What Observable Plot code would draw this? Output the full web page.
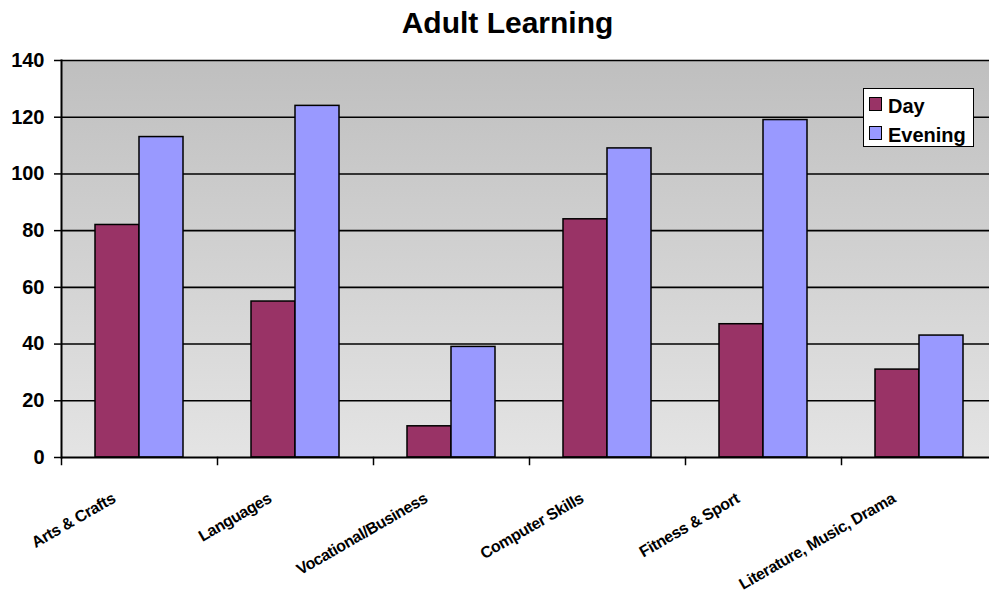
<!DOCTYPE html>
<html>
<head>
<meta charset="utf-8">
<script src="https://cdn.jsdelivr.net/npm/d3@7"></script>
<script src="https://cdn.jsdelivr.net/npm/@observablehq/plot@0.6"></script>
<style>
  html, body { margin: 0; padding: 0; background: #fff; overflow: hidden; }
  body { width: 989px; height: 598px; position: relative; font-family: "Liberation Sans", Arial, sans-serif; }
  #title { height: 46px; line-height: 46px; text-align: center; font-size: 30px; font-weight: bold; color: #000; padding-left: 26px; }
  #legend { position: absolute; left: 863px; top: 88px; width: 109px; height: 57px; background: #fff; border: 1.5px solid #000; }
  .item { position: absolute; left: 5px; height: 20px; }
  .sw { position: absolute; left: 0; top: 0; width: 11px; height: 12px; border: 1.5px solid #000; }
  .lbl { position: absolute; left: 19px; top: -2px; font-size: 20px; font-weight: bold; line-height: 22px; white-space: nowrap; }
  #chart svg { overflow: visible; }
</style>
</head>
<body>
<div id="title">Adult Learning</div>
<div id="chart"></div>
<div id="legend"></div>
<svg width="0" height="0" style="position:absolute">
  <defs>
    <linearGradient id="bg" x1="0" y1="0" x2="0" y2="1">
      <stop offset="0" stop-color="#bfbfbf"></stop>
      <stop offset="1" stop-color="#e4e4e4"></stop>
    </linearGradient>
  </defs>
</svg>
<script>
const categories = ["Arts & Crafts", "Languages", "Vocational/Business", "Computer Skills", "Fitness & Sport", "Literature, Music, Drama"];
const seriesNames = ["Day", "Evening"];
const seriesColors = ["#993366", "#9999FF"];
const dayValues = [82, 55, 11, 84, 47, 31];
const eveningValues = [113, 124, 39, 109, 119, 43];
const yTicks = [0, 20, 40, 60, 80, 100, 120, 140];

const rows = [];
categories.forEach((c, i) => {
  rows.push({category: c, series: "Day", value: dayValues[i]});
  rows.push({category: c, series: "Evening", value: eveningValues[i]});
});

const chart = Plot.plot({
  width: 989,
  height: 552,
  marginTop: 14,
  marginBottom: 141,
  marginLeft: 61,
  marginRight: -8,
  style: {fontFamily: "Liberation Sans, Arial, sans-serif", color: "#000", background: "transparent"},
  fx: {domain: categories, padding: 0, axis: null},
  x: {domain: seriesNames, paddingInner: 0, paddingOuter: 0.75, axis: null},
  y: {domain: [0, 140]},
  color: {domain: seriesNames, range: seriesColors},
  marks: [
    Plot.frame({fill: "url(#bg)", stroke: null, insetLeft: -1, insetRight: -1, shapeRendering: "crispEdges"}),
    Plot.ruleY(yTicks.filter(d => d > 0), {stroke: "#000", strokeWidth: 1.6}),
    Plot.barY(rows, {fx: "category", x: "series", y: "value", fill: "series", stroke: "#000", strokeWidth: 1.5}),
    Plot.ruleY([0], {stroke: "#000", strokeWidth: 2}),
    Plot.frame({anchor: "left", facetAnchor: "left", stroke: "#000", strokeWidth: 2}),
    Plot.frame({anchor: "left", insetTop: 397, insetBottom: -7, stroke: "#000", strokeWidth: 1.5}),
    Plot.axisY({ticks: yTicks, tickSize: 7, tickPadding: 10, fontSize: 20, fontWeight: "bold", label: null, strokeWidth: 1.5, tickFormat: d => String(d)}),
    Plot.text(categories, {fx: d => d, text: d => d, frameAnchor: "bottom", rotate: -30, textAnchor: "end", lineAnchor: "bottom", dx: -23, dy: 44, fontSize: 16, fontWeight: "bold", fill: "#000", style: "letter-spacing:-0.4px"})
  ]
});
document.getElementById("chart").appendChild(chart);
chart.querySelectorAll("text").forEach(t => {
  if (categories.includes(t.textContent)) t.style.letterSpacing = "-0.4px";
});

const legend = document.getElementById("legend");
seriesNames.forEach((name, i) => {
  const item = document.createElement("div");
  item.className = "item";
  item.style.top = (8 + i * 29) + "px";
  const sw = document.createElement("div");
  sw.className = "sw";
  sw.style.background = seriesColors[i];
  const lbl = document.createElement("div");
  lbl.className = "lbl";
  lbl.textContent = name;
  item.appendChild(sw);
  item.appendChild(lbl);
  legend.appendChild(item);
});
</script>
</body>
</html>
